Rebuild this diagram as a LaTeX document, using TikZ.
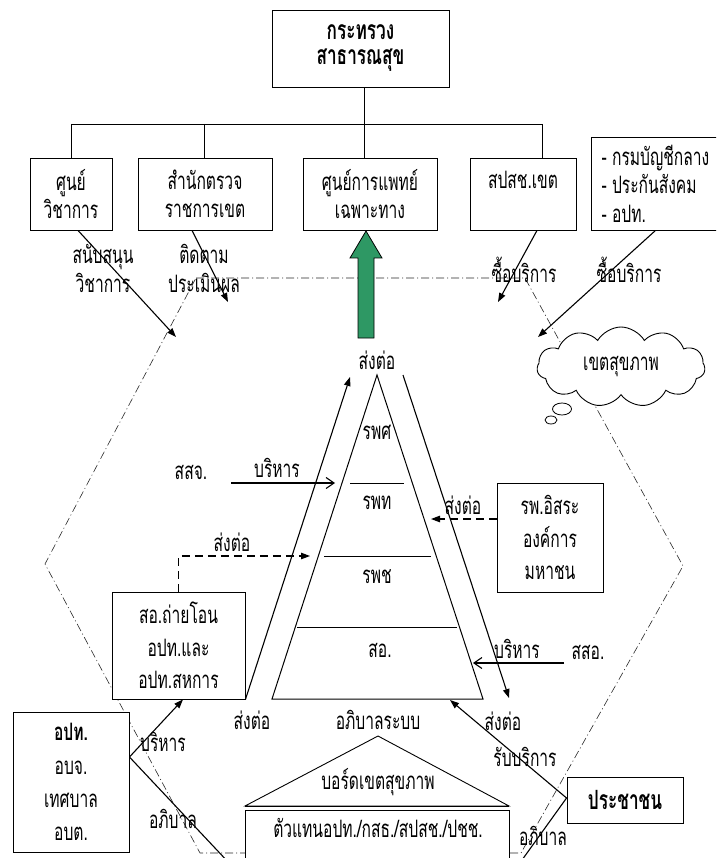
\documentclass[tikz,border=0pt]{standalone}
\usepackage{fontspec}
\setmainfont[Script=Thai,FakeStretch=0.65]{Loma}
\usetikzlibrary{arrows.meta,shapes.symbols,shapes.geometric}
\definecolor{fgreen}{RGB}{46,152,100}
\definecolor{hexgray}{RGB}{40,40,40}
\newcommand\tfont{\fontsize{24}{28}\selectfont}
\tikzset{
  box/.style={draw, fill=white, line width=0.9pt, align=center, inner sep=0pt, font=\tfont},
  rowbox/.style={box, minimum height=72pt},
  lbl/.style={inner sep=0pt, align=center, font=\tfont},
  arr/.style={line width=1.1pt, -{Triangle[length=9pt,width=6.5pt]}},
  barb/.style={line width=1.1pt, -{Straight Barb[length=8pt,width=11pt]}},
  darr/.style={arr, dash pattern=on 8pt off 5pt},
  hexline/.style={hexgray, line width=0.6pt, dash pattern=on 8pt off 3pt on 1pt off 3pt},
  thinline/.style={line width=0.9pt},
}
\begin{document}
\begin{tikzpicture}[x=1pt,y=-1pt]
\useasboundingbox (0,0) rectangle (716,858);
\clip (0,0) rectangle (716,858);

% dash-dot hexagon (background)
\coordinate (h1) at (196,278);
\coordinate (h2) at (525,278);
\coordinate (h3) at (683,566);
\coordinate (h4) at (521,853);
\coordinate (h5) at (200,853);
\coordinate (h6) at (45,564);
\draw[hexline] (h1) -- (h2) -- (h3) -- (h4) -- (h5) -- (h6) -- cycle;

% top box and org chart
\node[box, minimum width=177pt, minimum height=77pt, font=\bfseries\fontsize{26.5}{25}\selectfont] (moph) at (360.5,48.5) {กระทรวง\\สาธารณสุข};
\node[rowbox, minimum width=82pt] (c1) at (71,194) {ศูนย์\\วิชาการ};
\node[rowbox, minimum width=134pt] (c2) at (205,194) {สำนักตรวจ\\ราชการเขต};
\node[rowbox, minimum width=134pt] (c3) at (370,194) {ศูนย์การแพทย์\\เฉพาะทาง};
\node[rowbox, minimum width=106pt] (c4) at (523,194) {สปสช.เขต\\\mbox{}};
\node[box, minimum width=129pt, minimum height=93pt, align=left, font=\fontsize{24}{28.5}\selectfont] (c5) at (655.5,183.5) {- กรมบัญชีกลาง\\- ประกันสังคม\\- อปท.};

\coordinate (b1) at (71,124);
\coordinate (b2) at (204,124);
\coordinate (b3) at (364,124);
\coordinate (b4) at (542,124);
\draw[thinline] (moph.south -| b3) -- (b3);
\draw[thinline] (b1) -- (b4);
\draw[thinline] (b1) -- (b1 |- c1.north);
\draw[thinline] (b2) -- (b2 |- c2.north);
\draw[thinline] (b3) -- (b3 |- c3.north);
\draw[thinline] (b4) -- (b4 |- c4.north);

% green block arrow
\draw[fill=fgreen, line width=0.8pt] (358,338) -- (358,258) -- (350,258) -- (366,231) -- (382,258) -- (374,258) -- (374,338) -- cycle;

% labels top
\node[lbl, font=\fontsize{24}{29}\selectfont] (lsup) at (103,268) {สนับสนุน\\วิชาการ};
\node[lbl, font=\fontsize{24}{29}\selectfont] (lmon) at (204,268) {ติดตาม\\ประเมินผล};
\node[lbl] (lbuy1) at (524,270) {ซื้อบริการ};
\node[lbl] (lbuy2) at (629,270) {ซื้อบริการ};
\node[lbl] (lref0) at (377,360) {ส่งต่อ};

\coordinate (t1) at (176,337);
\coordinate (t2) at (228,302);
\coordinate (t4) at (498,302);
\coordinate (t5) at (538,337);
\draw[arr] ([xshift=7pt]c1.south) -- (t1);
\draw[arr] ([xshift=-13pt]c2.south) -- (t2);
\draw[arr] ([xshift=14pt]c4.south) -- (t4);
\draw[arr] (c5.south) -- (t5);

% cloud
\node[cloud, draw, fill=white, line width=0.9pt, cloud puffs=11, cloud puff arc=120, aspect=2.2, minimum width=168pt, minimum height=80pt, inner sep=0pt, font=\tfont] (cloud) at (621,367) {เขตสุขภาพ};
\node[ellipse, draw, fill=white, line width=0.8pt, minimum width=19pt, minimum height=12pt, inner sep=0pt] (bub1) at (562,409) {};
\node[ellipse, draw, fill=white, line width=0.8pt, minimum width=12pt, minimum height=8pt, inner sep=0pt] (bub2) at (551,420) {};

% pyramid
\coordinate (pA) at (377,375);
\coordinate (pL) at (272,699);
\coordinate (pR) at (483,699);
\draw[line width=1pt] (pL) -- (pA) -- (pR) -- cycle;
\coordinate (l1a) at (350,483); \coordinate (l1b) at (404,483);
\coordinate (l2a) at (324,556); \coordinate (l2b) at (431,556);
\coordinate (l3a) at (297,627); \coordinate (l3b) at (457,627);
\draw[thinline] (l1a) -- (l1b);
\draw[thinline] (l2a) -- (l2b);
\draw[thinline] (l3a) -- (l3b);
\node[lbl] (rps) at (377,432) {รพศ};
\node[lbl] (rpt) at (377,503) {รพท};
\node[lbl] (rpc) at (377,577) {รพช};
\node[lbl] (so) at (380,650) {สอ.};

% outer arrows of pyramid
\coordinate (upT) at (350,377);
\coordinate (dnS) at (403,375);
\coordinate (dnT) at (509,698);

% left side
\node[lbl] (ssj) at (191,472) {สสจ.};
\node[lbl] (lman1) at (277,468) {บริหาร};
\coordinate (ssjS) at (231,483);
\coordinate (ssjT) at (335,483);
\draw[barb] (ssjS) -- (ssjT);

\node[box, minimum width=133pt, minimum height=107pt, font=\fontsize{24}{32.5}\selectfont] (sao) at (178.5,645.5) {สอ.ถ่ายโอน\\อปท.และ\\อปท.สหการ};
\coordinate (saoT) at (310,556);
\draw[darr] (sao.north) |- (saoT);
\node[lbl] (lref1) at (232,542) {ส่งต่อ};
\draw[arr] (sao.south east) -- (upT);
\draw[arr] (dnS) -- (dnT);

% right side
\node[box, minimum width=106pt, minimum height=109pt, font=\fontsize{24}{32.5}\selectfont] (ind) at (550,537.5) {รพ.อิสระ\\องค์การ\\มหาชน};
\coordinate (indT) at (431,519);
\draw[darr] ([yshift=18.5pt]ind.west) -- (indT);
\node[lbl] (lref2) at (463,505) {ส่งต่อ};

\node[lbl] (sso) at (588,652) {สสอ.};
\node[lbl] (lman2) at (517,649) {บริหาร};
\coordinate (ssoS) at (564,663);
\coordinate (ssoT) at (473,663);
\draw[barb] (ssoS) -- (ssoT);

% bottom labels
\node[lbl] (lref3) at (252,720) {ส่งต่อ};
\node[lbl] (lgov) at (378,720) {อภิบาลระบบ};
\node[lbl] (lref4) at (503,721) {ส่งต่อ};

% local government box
\node[box, minimum width=116pt, minimum height=140pt, font=\fontsize{24}{33.3}\selectfont] (opt) at (71,782) {\textbf{อปท.}\\อบจ.\\เทศบาล\\อบต.};

% board
\coordinate (rfL) at (245,806);
\coordinate (rfA) at (378,736);
\coordinate (rfR) at (509,806);
\draw[fill=white, line width=0.9pt] (rfL) -- (rfA) -- (rfR) -- cycle;
\node[box, minimum width=264pt, minimum height=90pt, anchor=north] (rep) at (377,810) {};
\draw[thinline] (rfL) -- (rfR);
\node[lbl] (lboard) at (378,782) {บอร์ดเขตสุขภาพ};
\node[lbl] (lrep) at (378,828) {ตัวแทนอปท./กสธ./สปสช./ปชช.};

% people
\node[box, minimum width=116pt, minimum height=46pt, font=\bfseries\fontsize{26.5}{28}\selectfont] (pp) at (625,800) {ประชาชน};

% arrows from local gov
\draw[arr] ([yshift=25pt]opt.east) -- ([xshift=4.5pt]sao.south);
\draw[arr] ([yshift=25pt]opt.east) -- ([yshift=-24pt]rep.west);
\node[lbl] (lman3) at (163,742) {บริหาร};
\node[lbl] (lgov1) at (173,819) {อภิบาล};

% arrows from people
\coordinate (ppT) at (450,700);
\draw[arr] ([yshift=2pt]pp.west) -- (ppT);
\draw[arr] ([yshift=2pt]pp.west) -- ([yshift=-22pt]rep.east);
\node[lbl] (lrecv) at (525,757) {รับบริการ};
\node[lbl] (lgov2) at (543,836) {อภิบาล};
\end{tikzpicture}
\end{document}
